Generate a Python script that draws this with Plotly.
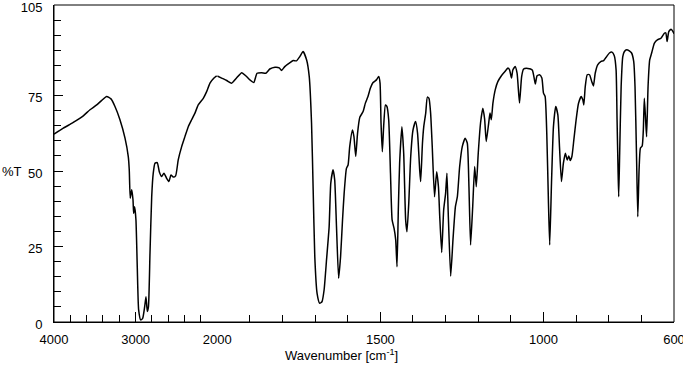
import plotly.graph_objects as go

# Spectrum (wavenumber in cm-1, %T)
wavenumber_high = [4000, 3886, 3764, 3641, 3559, 3477, 3416, 3355, 3302, 3253, 3192, 3130, 3090,
                   3078, 3066, 3048, 3032, 3024, 3012, 2996, 2980, 2963, 2938, 2914, 2889, 2873,
                   2857, 2843, 2824, 2803, 2784, 2763, 2735, 2710, 2681, 2653, 2620, 2592, 2567,
                   2539, 2510, 2478, 2436, 2396, 2355, 2314, 2273, 2233, 2171, 2130, 2089, 2040,
                   2007]
transmittance_high = [62.2, 64.2, 66.1, 68.3, 70.3, 71.9, 73.4, 74.7, 73.9, 71.4, 67.0, 60.9, 54.8,
                      50.4, 41.0, 43.8, 40.4, 36.0, 38.2, 33.8, 18.3, 4.0, 0.7, 1.2, 5.1, 8.4,
                      3.5, 5.0, 22.8, 41.5, 49.3, 52.6, 52.8, 49.8, 48.2, 49.3, 47.6, 46.5, 48.7,
                      48.0, 48.4, 53.7, 58.1, 61.4, 64.7, 67.0, 69.2, 71.9, 74.1, 76.3, 79.1, 80.8,
                      81.5]

wavenumber_low = [2000, 1986.5, 1971, 1956, 1941, 1925, 1912, 1900, 1888, 1878, 1864, 1851, 1839,
                  1823, 1810, 1803, 1793, 1777, 1767, 1757, 1747, 1737, 1726, 1718, 1711, 1706,
                  1701, 1694, 1686, 1679, 1672.5, 1665, 1657, 1652, 1645, 1640, 1634.5, 1628,
                  1622, 1616, 1611, 1604, 1599, 1594, 1585.5, 1581, 1575.5, 1570, 1563, 1553,
                  1546, 1538, 1530.5, 1522.5, 1512, 1505, 1501, 1498, 1494, 1490, 1484.5, 1480,
                  1474.5, 1469, 1464, 1458, 1453, 1449, 1445, 1441, 1434, 1428.5, 1422.5, 1418.5,
                  1413, 1407, 1400, 1392, 1386, 1379.5, 1376.5, 1371, 1367, 1361, 1356, 1351,
                  1346, 1341, 1334, 1327.5, 1322, 1318, 1312, 1306, 1300, 1296, 1292, 1284.5,
                  1277.5, 1270, 1264, 1257, 1249, 1240, 1233.5, 1228.5, 1223.5, 1217, 1211, 1206,
                  1200, 1193, 1186, 1180.5, 1175.5, 1168, 1164, 1160, 1155, 1148, 1140, 1129.5,
                  1119.5, 1109, 1104, 1098, 1094, 1087, 1081, 1073.5, 1067, 1061, 1048, 1034.5,
                  1029.5, 1025, 1020, 1012, 1005, 1000, 995, 990, 985, 981, 975.5, 969.5, 962.5,
                  956, 951, 945, 939, 933, 927.5, 922.5, 918, 913, 907, 900, 893, 884.5, 879.5,
                  876.5, 872, 866, 859, 852, 847, 841.5, 834, 823.5, 815.5, 808, 798, 790, 783,
                  777.5, 774.5, 771.5, 769.5, 766.5, 762, 757, 752, 745, 737, 730, 723.5, 719.5,
                  715, 711, 707, 703, 697.5, 694, 691, 687, 684, 679.5, 674.5, 668.5, 660, 650,
                  640, 629, 625, 621, 616, 609, 603, 600]
transmittance_low = [81.5, 80.8, 80.0, 79.1, 80.8, 82.6, 81.5, 80.2, 79.3, 82.4, 82.6, 82.4, 83.8,
                     84.4, 84.2, 83.3, 84.6, 85.9, 86.6, 86.5, 87.9, 89.6, 86.8, 81.3, 65.9, 43.8,
                     21.6, 9.5, 6.2, 6.7, 10.6, 20.6, 31.6, 46.0, 50.4, 47.1, 31.6, 14.5,
                     21.6, 33.8, 42.7, 50.9, 52.0, 58.1, 63.6, 61.4, 54.8, 62.5, 67.8, 69.7,
                     72.5, 74.7, 77.5, 79.3, 80.2, 81.3, 79.1, 65.9, 56.4, 64.7, 71.9, 71.4,
                     67.0, 49.3, 33.8, 31.0, 27.2, 18.3, 37.1, 52.6, 64.7, 55.9, 33.8, 29.9,
                     39.3, 54.8, 63.6, 66.4, 62.5, 50.4, 46.5, 59.2, 64.7, 69.2, 74.5, 74.1,
                     69.2, 58.1, 41.5, 49.8, 44.8, 34.9, 23.0, 37.1, 42.7, 49.3, 36.0, 15.2,
                     27.2, 38.2, 41.5, 51.5, 58.1, 60.9, 59.2, 44.8, 25.5, 38.2, 51.5, 44.8,
                     55.9, 65.9, 70.8, 67.3, 59.8, 65.9, 69.2, 67.0, 72.5, 76.9, 79.6, 81.5,
                     82.8, 84.1, 83.5, 80.8, 83.5, 84.6, 82.4, 72.5, 81.3, 83.8, 84.0, 83.5,
                     81.3, 78.8, 81.5, 81.9, 80.8, 75.8, 74.7, 62.5, 40.4, 25.5, 46.0, 64.7, 71.4,
                     68.6, 58.1, 46.5, 52.6, 55.9, 53.7, 55.0, 53.5, 54.8, 60.3, 67.0, 72.3, 74.7,
                     73.6, 71.9, 78.0, 81.9, 81.9, 79.6, 78.2, 82.4, 85.2, 86.3, 86.6, 87.7, 89.1,
                     89.4, 88.2, 83.5, 67.0, 50.4, 41.5, 55.9, 78.0, 87.9, 89.6, 90.2, 89.8,
                     89.1, 86.3, 78.0, 55.9, 34.9, 50.4, 57.6, 58.3, 63.6, 74.1, 67.0, 61.4, 78.0,
                     86.8, 89.1, 92.4, 93.5, 94.0, 95.7, 95.7, 92.9, 96.2, 97.0, 96.2, 95.5]

x_ticks_high = [4000, 3000, 2000]
x_ticks_low = [1500, 1000, 600]
y_ticks = [0, 25, 50, 75, 105]

FONT = "Liberation Sans, Arial, sans-serif"
split = 0.2633

fig = go.Figure()
line = dict(color="black", width=1.5, shape="spline", smoothing=0.5)
fig.add_trace(go.Scatter(x=wavenumber_high, y=transmittance_high, mode="lines",
                         line=line, xaxis="x", yaxis="y", showlegend=False, hoverinfo="skip"))
fig.add_trace(go.Scatter(x=wavenumber_low, y=transmittance_low, mode="lines",
                         line=line, xaxis="x2", yaxis="y", showlegend=False, hoverinfo="skip"))

common_x = dict(showgrid=False, zeroline=False, showline=True, linecolor="black", linewidth=1,
                ticks="inside", ticklen=10, tickcolor="black", tickwidth=1,
                tickfont=dict(family=FONT, size=13, color="black"), ticklabelstandoff=5,
                ticklabeloverflow="allow", automargin=False)

fig.update_layout(
    width=683, height=375,
    margin=dict(l=54, r=9, t=5, b=53),
    plot_bgcolor="white", paper_bgcolor="white",
    font=dict(family=FONT, size=13, color="black"),
    xaxis=dict(domain=[0, split], range=[4000, 2000], tickmode="array", tickvals=x_ticks_high,
               anchor="y",
               minor=dict(tickmode="linear", tick0=0, dtick=200, ticks="inside", ticklen=7,
                          tickcolor="black", tickwidth=1, showgrid=False),
               **common_x),
    xaxis2=dict(domain=[split, 1], range=[2000, 600], tickmode="array", tickvals=x_ticks_low,
                anchor="y",
                minor=dict(tickmode="linear", tick0=0, dtick=100, ticks="inside", ticklen=7,
                           tickcolor="black", tickwidth=1, showgrid=False),
                **common_x),
    yaxis=dict(range=[0, 105], tickmode="array", tickvals=y_ticks, anchor="x",
               showgrid=False, zeroline=False, showline=True, linecolor="black", linewidth=1,
               ticks="inside", ticklen=9, tickcolor="black", tickwidth=1,
               tickfont=dict(family=FONT, size=13, color="black"), ticklabelstandoff=8,
               ticklabelshift=2, ticklabeloverflow="allow", automargin=False,
               minor=dict(tickmode="linear", tick0=0, dtick=5, ticks="inside", ticklen=7,
                          tickcolor="black", tickwidth=1, showgrid=False)),
    shapes=[dict(type="rect", xref="paper", yref="paper", x0=0, x1=1, y0=0, y1=1,
                 line=dict(color="black", width=1), fillcolor="rgba(0,0,0,0)")],
    annotations=[
        dict(text="%T", xref="paper", yref="y", x=0, y=50, xanchor="right", yanchor="middle",
             xshift=-30, showarrow=False, font=dict(family=FONT, size=13, color="black")),
        dict(text="Wavenumber [cm<sup>-1</sup>]", xref="paper", yref="paper", x=0.4635,
             y=-0.104, xanchor="center", yanchor="middle", showarrow=False,
             font=dict(family=FONT, size=13, color="black")),
    ],
)

fig.write_html("out.html", config={"displayModeBar": False, "staticPlot": True},
               post_script="document.body.style.margin='0';")
